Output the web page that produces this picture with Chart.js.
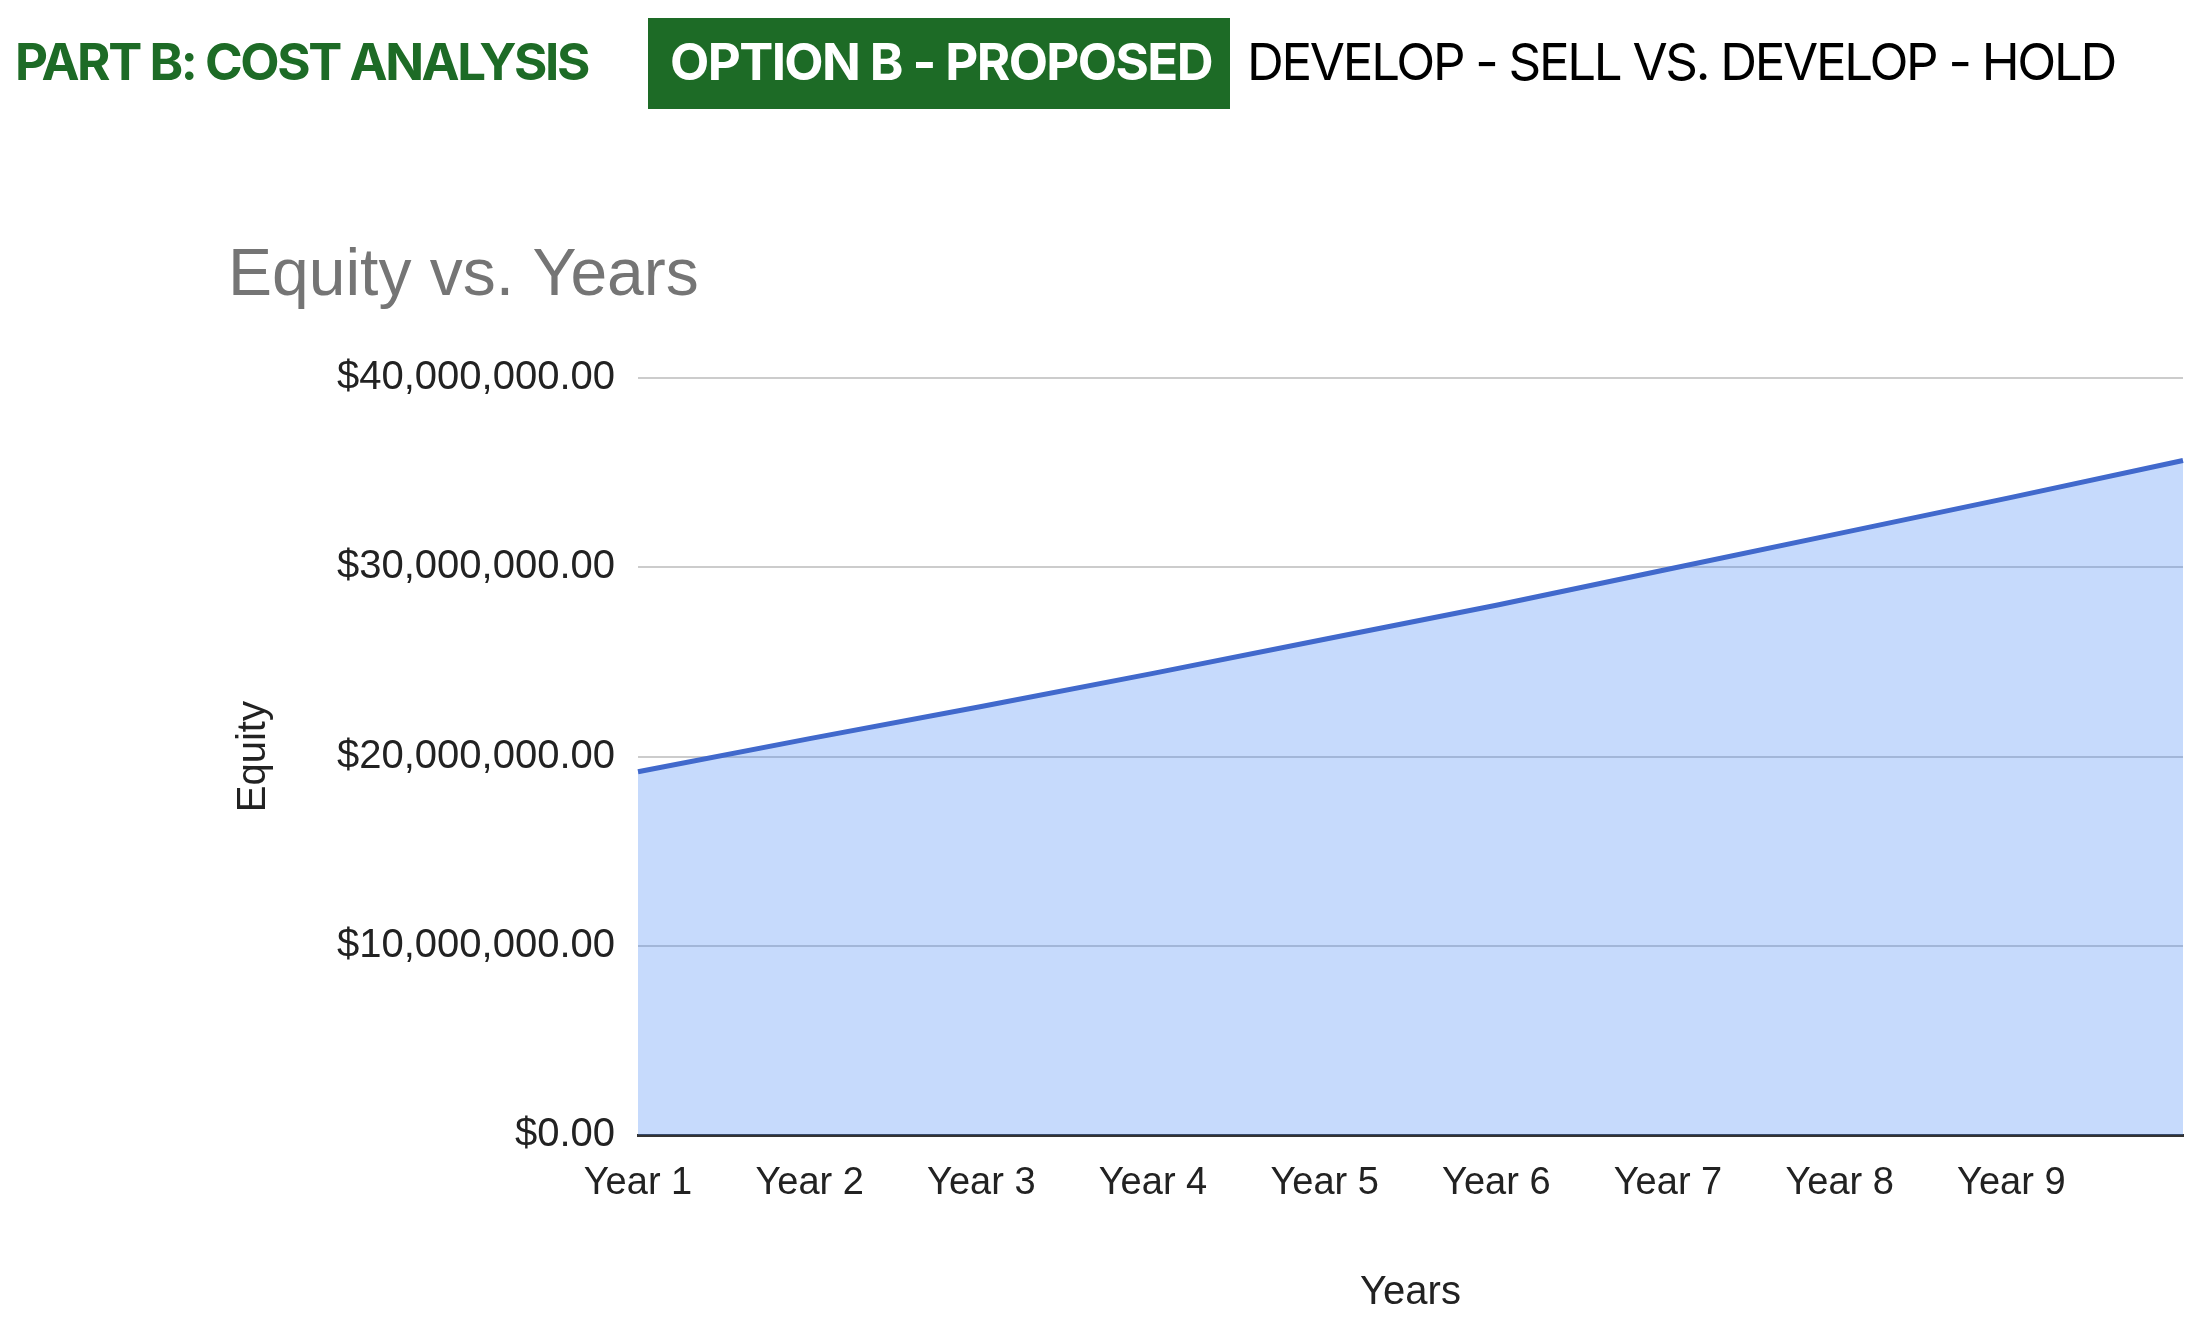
<!DOCTYPE html>
<html>
<head>
<meta charset="utf-8">
<script src="https://cdn.jsdelivr.net/npm/chart.js@4.4.1/dist/chart.umd.min.js"></script>
<style>
  html, body { margin: 0; padding: 0; background: #fff; }
  body { width: 2200px; height: 1328px; position: relative; overflow: hidden; }
  .hd { position: absolute; white-space: nowrap; font-family: Inter, "Noto Sans", sans-serif; font-size: 51px; line-height: 51px; }
  #partB { left: 15px; top: 36px; color: #1d6b26; font-weight: 700; }
  #box { position: absolute; left: 648px; top: 18px; width: 582px; height: 91px; background: #1d6b26; }
  #option { left: 670px; top: 36px; color: #fff; font-weight: 700; }
  #compare { left: 1247px; top: 36px; color: #000; font-weight: 400; }
  #wrap { position: absolute; left: 0; top: 120px; width: 2200px; height: 1208px; }
</style>
</head>
<body>
<div id="partB" class="hd" data-w="573">PART B: COST ANALYSIS</div>
<div id="box"></div>
<div id="option" class="hd" data-w="542">OPTION B - PROPOSED</div>
<div id="compare" class="hd" data-w="868">DEVELOP - SELL VS. DEVELOP - HOLD</div>
<div id="wrap"><canvas id="myChart" width="2200" height="1208"></canvas></div>
<script>
// data
const years = ['Year 1', 'Year 2', 'Year 3', 'Year 4', 'Year 5', 'Year 6', 'Year 7', 'Year 8', 'Year 9', 'Year 10'];
const equity = [19200000, 20950000, 22650000, 24400000, 26200000, 28000000, 29900000, 31800000, 33700000, 35650000];
const yTicks = [0, 10000000, 20000000, 30000000, 40000000];

// squeeze the header words to the widths in the picture
document.querySelectorAll('.hd').forEach(function (el) {
  const w = el.getBoundingClientRect().width;
  const n = el.textContent.length;
  el.style.letterSpacing = ((+el.dataset.w - w) / n) + 'px';
});

function money(v) {
  return '$' + Number(v).toLocaleString('en-US', { minimumFractionDigits: 2, maximumFractionDigits: 2 });
}

const data = {
  labels: years,
  datasets: [{
    label: 'Equity',
    data: equity,
    borderColor: '#4169cc',
    borderWidth: 5,
    backgroundColor: 'rgba(66, 133, 244, 0.3)',
    fill: 'origin',
    pointRadius: 0,
    tension: 0
  }]
};

const config = {
  type: 'line',
  data: data,
  options: {
    responsive: false,
    devicePixelRatio: 1,
    animation: false,
    layout: { padding: { left: 228, right: 17, top: 0, bottom: 0 } },
    plugins: {
      legend: { display: false },
      tooltip: { enabled: false },
      title: {
        display: true,
        text: 'Equity vs. Years',
        align: 'start',
        color: '#757575',
        font: { family: '"Liberation Sans", Arial, sans-serif', size: 66, weight: 'normal' },
        padding: { top: 117, bottom: 62 }
      }
    },
    scales: {
      x: {
        // invisible grid, only used so the tick length pushes the labels down
        grid: { display: true, color: 'rgba(0,0,0,0)', drawTicks: true, tickLength: 10 },
        border: { display: true, color: '#333', width: 3 },
        ticks: {
          color: '#222',
          font: { family: '"Liberation Sans", Arial, sans-serif', size: 38 },
          padding: 16,
          autoSkip: false,
          maxRotation: 0,
          callback: function (v, i) { return i === years.length - 1 ? '' : years[i]; }
        },
        title: {
          display: true,
          text: 'Years',
          color: '#222',
          font: { family: '"Liberation Sans", Arial, sans-serif', size: 40 },
          padding: { top: 0, bottom: 11 }
        },
        afterFit: function (s) { s.height = 193; }
      },
      y: {
        min: 0,
        max: 40000000,
        grid: { color: '#cccccc', lineWidth: 2, drawTicks: false },
        border: { display: false },
        afterBuildTicks: function (s) { s.ticks = yTicks.map(function (v) { return { value: v }; }); },
        ticks: {
          color: '#222',
          font: { family: '"Liberation Sans", Arial, sans-serif', size: 40 },
          padding: 23,
          callback: function (v) { return money(v); }
        },
        title: {
          display: true,
          text: 'Equity',
          color: '#222',
          font: { family: '"Liberation Sans", Arial, sans-serif', size: 40 },
          padding: { top: 2, bottom: 0 }
        },
        afterFit: function (s) { s.width = 410; }
      }
    }
  }
};

var myChart = new Chart(document.getElementById('myChart'), config);
</script>
</body>
</html>
